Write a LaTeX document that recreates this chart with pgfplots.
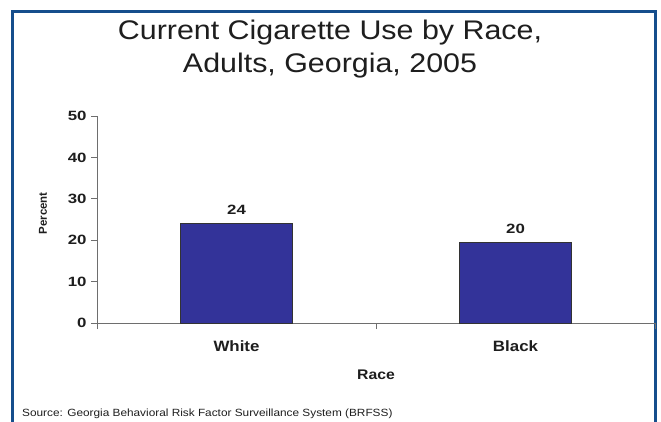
\documentclass[border=0pt]{standalone}
\usepackage{pgfplots}
\pgfplotsset{compat=1.18}
\usepackage{fontspec}
\setmainfont{Liberation Sans}
\usepackage{graphicx}
\definecolor{barblue}{RGB}{51,51,153}
\definecolor{frameblue}{RGB}{22,78,140}
\definecolor{axisgray}{RGB}{110,110,110}
\definecolor{txt}{RGB}{30,30,30}
\newcommand{\sx}[1]{\scalebox{1.13}[1]{#1}}
\newcommand{\sxx}[1]{\scalebox{1.25}[1]{#1}}
\begin{document}
\begin{tikzpicture}[x=1bp,y=1bp]
\useasboundingbox (0,0) rectangle (661,421);
\fill[white] (0,0) rectangle (661,421);
\draw[frameblue, line width=3bp] (12.5,-5) -- (12.5,409) -- (655.5,409) -- (655.5,-5);
\node[anchor=base, text=txt, font=\fontsize{27}{30}\selectfont] at (330,382) {\sx{Current Cigarette Use by Race,}};
\node[anchor=base, text=txt, font=\fontsize{27}{30}\selectfont] at (330,349) {\sx{Adults, Georgia, 2005}};
\node[anchor=base west, text=txt, font=\fontsize{10.5}{12}\selectfont, inner sep=0pt] at (22,5) {\sx{Source: Georgia Behavioral Risk Factor Surveillance System (BRFSS)}};
\begin{axis}[
  at={(97bp,98bp)}, anchor=south west,
  scale only axis, width=558bp, height=207bp,
  xmin=-0.5, xmax=1.5, ymin=0, ymax=50,
  axis lines*=left,
  axis line style={draw=axisgray, line width=0.9bp},
  ytick={0,10,20,30,40,50},
  yticklabel={\sxx{\pgfmathprintnumber{\tick}}},
  /pgf/number format/assume math mode=true,
  tick align=outside,
  major tick length=6bp,
  tick style={draw=axisgray, line width=0.9bp},
  yticklabel style={font=\fontsize{13.5}{15}\selectfont\bfseries, text=txt, xshift=-1bp},
  xtick={-0.5,0.5,1.5},
  xticklabels={},
  extra x ticks={0,1},
  extra x tick labels={\sx{White},\sx{Black}},
  extra x tick style={major tick length=0bp, xticklabel style={font=\fontsize{15}{17}\selectfont\bfseries, text=txt, yshift=-14bp}},
  xlabel={\sx{Race}},
  xlabel style={font=\fontsize{14}{16}\selectfont\bfseries, text=txt, at={(axis description cs:0.5,0)}, anchor=center, yshift=-52bp},
  ylabel={Percent},
  ylabel style={font=\fontsize{11.5}{13}\selectfont\bfseries, text=txt, at={(axis description cs:-0.097,0.53)}, anchor=center},
  clip=false,
]
\addplot[ybar, bar width=112bp, fill=barblue, draw=black!80, line width=0.7bp,
  point meta=explicit symbolic,
  nodes near coords={\sxx{\pgfplotspointmeta}},
  every node near coord/.append style={font=\fontsize{13.5}{15}\selectfont\bfseries, text=txt, yshift=5bp}]
  coordinates {(0,24.1) [24] (1,19.5) [20]};
\end{axis}
\end{tikzpicture}
\end{document}
